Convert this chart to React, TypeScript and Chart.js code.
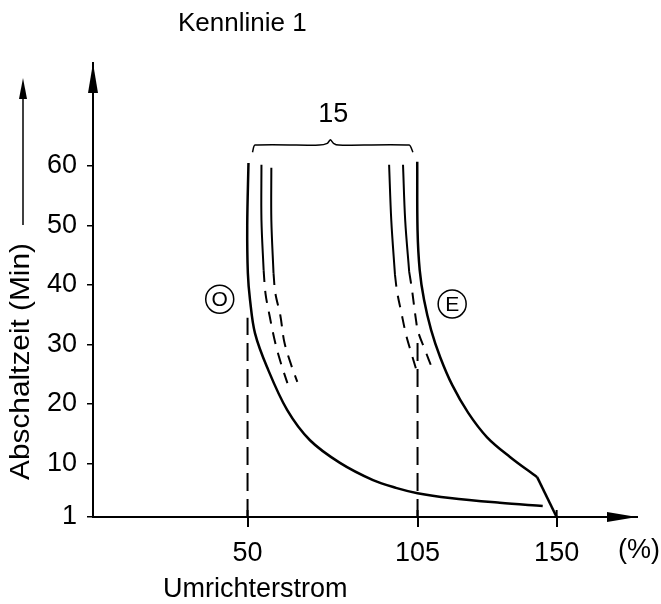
import React, { useEffect, useRef } from "react";
import { Chart, registerables } from "chart.js";
Chart.register(...registerables);

// ---- text ----
const TITLE = "Kennlinie 1";
const X_TITLE = "Umrichterstrom";
const Y_TITLE = "Abschaltzeit (Min)";
const X_UNIT = "(%)";
const BRACE_LABEL = "15";
const LABEL_O = "O";
const LABEL_E = "E";

// ---- axes ----
const xTickValues = [50, 105, 150];
const yTickValues = [1, 10, 20, 30, 40, 50, 60];
const X_MIN = 0;
const X_MAX = 176;
const Y_MIN = 1;
const Y_MAX = 77.3;

// ---- curves [x (%), y (min)] ----
const oMain = [[50.3, 60.5], [49.9, 50], [50.1, 42], [50.8, 37.5], [52.4, 31.9], [56.3, 26.2], [62.8, 19], [70.2, 13.9], [79.9, 10.1], [90.6, 7.2], [98, 5.9], [105, 5.0], [115.5, 4.2], [131.6, 3.4], [145.5, 2.85]];
const oInner1Solid = [[54.5, 60.2], [54.5, 50.9], [55.2, 42.5]];
const oInner1Dash = [[55.2, 42.5], [55.8, 38.6], [57.1, 34.9], [59.0, 30.2], [61.0, 26.5], [62.9, 23.5]];
const oInner2Solid = [[57.7, 59.7], [57.7, 50.9], [58.4, 42.0]];
const oInner2Dash = [[58.4, 42.0], [59.0, 38.6], [60.6, 34.9], [61.9, 30.4], [63.9, 26.9], [66.1, 23.7]];

const eMain = [[104.9, 60.7], [105.0, 49.2], [105.7, 42.5], [107.1, 37.5], [109.4, 32.4], [112.3, 27.9], [116.2, 23.2], [121.4, 18.5], [127.5, 14.4], [134.9, 11.1], [143.7, 7.7]];
const eDrop = [[143.7, 7.7], [150, 1]];
const eInner1Solid = [[95.8, 60.2], [96.5, 50.9], [97.7, 41.7]];
const eInner1Dash = [[97.7, 41.7], [98.4, 38.8], [99.7, 35.5], [101.3, 31.6], [102.9, 28.7], [104.8, 25.4]];
const eInner2Solid = [[100.3, 60.2], [101, 50.9], [102.3, 42.2]];
const eInner2Dash = [[102.3, 42.2], [103.2, 39.2], [104.5, 34.1], [105.2, 32.1], [107.4, 29.1], [109.7, 26]];

const brace = [[51.6, 62.3], [52.4, 63.5], [73.2, 63.5], [75.8, 63.8], [76.8, 64.4], [77.8, 63.8], [79.5, 63.5], [102.3, 63.5], [103.5, 62.3]];
const v50 = [[50, 1], [50, 34.5]];
const v105 = [[105, 1], [105, 31.3]];

// annotation anchors in data space
const braceLabelAt = [77.7, 68.6];
const labelOAt = [41, 37.6];
const labelEAt = [116.2, 36.8];

const INK = "#000";
const FONT = "'Liberation Sans', Arial, sans-serif";

export default function App() {
  const ref = useRef<HTMLCanvasElement>(null);
  useEffect(() => {
    const canvas = ref.current!;
    const toPts = (a: number[][]) => a.map(([x, y]) => ({ x, y }));
    const line = (data: number[][], opts: any = {}) => ({
      data: toPts(data),
      showLine: true,
      pointRadius: 0,
      borderColor: INK,
      backgroundColor: INK,
      fill: false,
      tension: 0.35,
      borderWidth: 2,
      ...opts,
    });

    const decor = {
      id: "decor",
      afterDraw(chart: any) {
        const { ctx, chartArea, scales } = chart;
        const xs = scales.x, ys = scales.y;
        const L = chartArea.left, B = chartArea.bottom, T = chartArea.top, R = chartArea.right;
        ctx.save();
        ctx.fillStyle = INK;
        ctx.strokeStyle = INK;
        // y-axis arrow
        ctx.beginPath();
        ctx.moveTo(L, T);
        ctx.lineTo(L - 5, T + 30);
        ctx.lineTo(L + 5, T + 30);
        ctx.closePath();
        ctx.fill();
        // x-axis arrow
        ctx.beginPath();
        ctx.moveTo(R, B);
        ctx.lineTo(R - 30, B - 5);
        ctx.lineTo(R - 30, B + 5);
        ctx.closePath();
        ctx.fill();
        // upper halves of x ticks
        ctx.lineWidth = 2;
        xTickValues.forEach((v) => {
          const px = xs.getPixelForValue(v);
          ctx.beginPath();
          ctx.moveTo(px, B - 7);
          ctx.lineTo(px, B);
          ctx.stroke();
        });
        // y title arrow
        ctx.lineWidth = 1.5;
        ctx.beginPath();
        ctx.moveTo(23, 225);
        ctx.lineTo(23, 95);
        ctx.stroke();
        ctx.beginPath();
        ctx.moveTo(23, 78);
        ctx.lineTo(19, 99);
        ctx.lineTo(27, 99);
        ctx.closePath();
        ctx.fill();

        // texts
        ctx.textBaseline = "alphabetic";
        ctx.textAlign = "left";
        ctx.font = `26px ${FONT}`;
        ctx.fillText(TITLE, 178, 31);
        ctx.font = `27px ${FONT}`;
        ctx.fillText(X_TITLE, 163, 597);
        ctx.fillText(X_UNIT, 618, 558);
        // y title rotated
        ctx.save();
        ctx.translate(29, 480);
        ctx.rotate(-Math.PI / 2);
        ctx.font = `27px ${FONT}`;
        const w = ctx.measureText(Y_TITLE).width;
        ctx.scale(237 / w, 1);
        ctx.fillText(Y_TITLE, 0, 0);
        ctx.restore();

        // brace label
        ctx.textAlign = "center";
        ctx.textBaseline = "middle";
        ctx.font = `27px ${FONT}`;
        ctx.fillText(BRACE_LABEL, xs.getPixelForValue(braceLabelAt[0]), ys.getPixelForValue(braceLabelAt[1]));
        // circled labels
        const circled = (txt: string, at: number[]) => {
          const px = xs.getPixelForValue(at[0]);
          const py = ys.getPixelForValue(at[1]);
          ctx.lineWidth = 1.5;
          ctx.beginPath();
          ctx.arc(px, py, 14, 0, Math.PI * 2);
          ctx.stroke();
          ctx.font = `21px ${FONT}`;
          ctx.fillText(txt, px, py + 1);
        };
        circled(LABEL_O, labelOAt);
        circled(LABEL_E, labelEAt);
        ctx.restore();
      },
    };

    const tickFont = { family: FONT, size: 27 };
    const chart = new Chart(canvas, {
      type: "scatter",
      data: {
        datasets: [
          line(oMain, { borderWidth: 2.5 }),
          line(oInner1Solid),
          line(oInner1Dash, { borderDash: [12, 9] }),
          line(oInner2Solid),
          line(oInner2Dash, { borderDash: [12, 9] }),
          line(eMain, { borderWidth: 2.5 }),
          line(eDrop, { borderWidth: 2.5, tension: 0 }),
          line(eInner1Solid),
          line(eInner1Dash, { borderDash: [12, 9] }),
          line(eInner2Solid),
          line(eInner2Dash, { borderDash: [12, 9] }),
          line(brace, { borderWidth: 1.5, tension: 0.2 }),
          line(v50, { borderDash: [18, 8], tension: 0 }),
          line(v105, { borderDash: [18, 8], tension: 0 }),
        ] as any,
      },
      options: {
        responsive: false,
        animation: false,
        layout: { padding: { left: 0, top: 63, right: 24, bottom: 0 } },
        plugins: { legend: { display: false }, tooltip: { enabled: false } },
        scales: {
          x: {
            type: "linear",
            min: X_MIN,
            max: X_MAX,
            afterFit: (s: any) => { s.height = 87; },
            afterBuildTicks: (s: any) => { s.ticks = xTickValues.map((value) => ({ value })); },
            ticks: { font: tickFont, color: INK, padding: 10, autoSkip: false, maxRotation: 0, callback: (v: any) => String(v) },
            grid: { display: true, drawOnChartArea: false, drawTicks: true, tickLength: 10, color: INK, lineWidth: 2 },
            border: { display: true, color: INK, width: 2 },
          },
          y: {
            type: "linear",
            min: Y_MIN,
            max: Y_MAX,
            afterFit: (s: any) => { s.width = 93; },
            afterBuildTicks: (s: any) => { s.ticks = yTickValues.map((value) => ({ value })); },
            ticks: { font: tickFont, color: INK, padding: 10, autoSkip: false, callback: (v: any) => String(v) },
            grid: { display: true, drawOnChartArea: false, drawTicks: true, tickLength: 6, color: INK, lineWidth: 1.5 },
            border: { display: true, color: INK, width: 2 },
          },
        },
      } as any,
      plugins: [decor],
    });
    return () => chart.destroy();
  }, []);
  return (
    <div style={{ position: "absolute", left: 0, top: 0, width: 661, height: 604, background: "#fff" }}>
      <canvas ref={ref} width={661} height={604} style={{ display: "block" }} />
    </div>
  );
}
